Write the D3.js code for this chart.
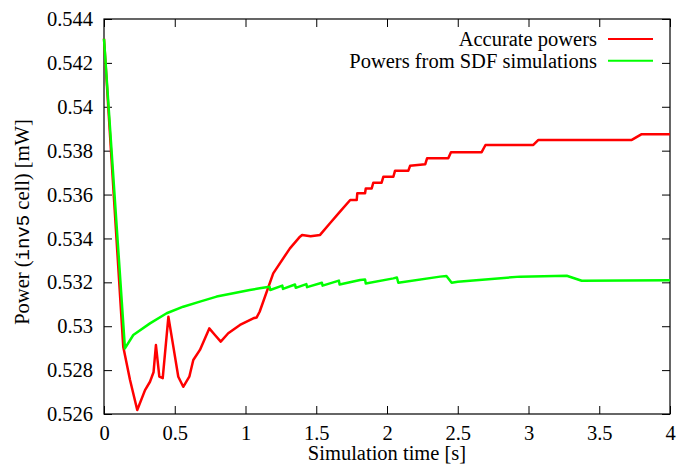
<!DOCTYPE html>
<html lang="en">
<head>
    <meta charset="UTF-8">
    <title>Power vs simulation time</title>
    <script src="https://d3js.org/d3.v7.min.js"></script>
</head>
<body style="margin:0;background:#fff">
    <div id="chart"></div>
    <script>
        // values (time in s, power in mW)
        const accurateTime = [0, 0.136, 0.184, 0.235, 0.29, 0.325, 0.35, 0.367, 0.391, 0.415, 0.455, 0.49,
            0.525, 0.56, 0.603, 0.631, 0.678, 0.744, 0.784, 0.825, 0.878, 0.961, 1.055, 1.079, 1.1, 1.196,
            1.314, 1.385, 1.4, 1.46, 1.527, 1.597, 1.668, 1.74, 1.786, 1.79, 1.845, 1.85, 1.892, 1.903,
            1.962, 1.974, 2.045, 2.057, 2.151, 2.163, 2.27, 2.283, 2.433, 2.452, 2.669, 2.696, 3.034, 3.07,
            3.73, 3.8, 4.0];
        const accuratePower = [0.5431, 0.52907, 0.52755, 0.52618, 0.52709, 0.52747, 0.5279, 0.52914, 0.5277,
            0.52763, 0.53043, 0.52907, 0.5277, 0.52724, 0.5277, 0.52846, 0.52892, 0.5299, 0.5296, 0.5293,
            0.52968, 0.53006, 0.53036, 0.5304, 0.53066, 0.53241, 0.53355, 0.53408, 0.53416, 0.5341, 0.53416,
            0.53469, 0.53522, 0.53575, 0.53575, 0.53606, 0.53606, 0.53628, 0.53628, 0.53654,
            0.53654, 0.53681, 0.53681, 0.53709, 0.53709, 0.53731, 0.53738, 0.53765, 0.53765, 0.53793,
            0.53793, 0.53826, 0.53826, 0.53849, 0.53849, 0.53875, 0.53875];

        const sdfTime = [0, 0.148, 0.207, 0.325, 0.443, 0.56, 0.678, 0.796, 0.914, 1.03, 1.1, 1.17, 1.175,
            1.26, 1.265, 1.35, 1.355, 1.43, 1.435, 1.54, 1.545, 1.66, 1.665, 1.81, 1.845, 1.85, 2.045, 2.07,
            2.08, 2.375, 2.42, 2.457, 2.5, 2.94, 3.27, 3.376, 4.0];
        const sdfPower = [0.5431, 0.52899, 0.5296, 0.53013, 0.53059, 0.53089, 0.53112, 0.53135, 0.5315, 0.53165,
            0.53173, 0.5318, 0.53165, 0.53185, 0.5317, 0.5319, 0.53175, 0.53192, 0.53178, 0.53198, 0.53185,
            0.53208, 0.5319, 0.53211, 0.53213, 0.53195, 0.53218, 0.53222, 0.53198, 0.53226, 0.53229, 0.53198,
            0.53203, 0.53226, 0.5323, 0.53207, 0.5321];

        const xTicks = [0, 0.5, 1, 1.5, 2, 2.5, 3, 3.5, 4];
        const yTicks = [0.526, 0.528, 0.53, 0.532, 0.534, 0.536, 0.538, 0.54, 0.542, 0.544];
        const seriesNames = ["Accurate powers", "Powers from SDF simulations"];
        const seriesColors = ["#ff0000", "#00ff00"];

        const serif = "Liberation Serif";
        const fontSize = 20.5;

        const margin = {top: 19, right: 8, bottom: 50, left: 104},
            W = 678, H = 464,
            width = W - margin.left - margin.right,
            height = H - margin.top - margin.bottom;

        const svg = d3.select("#chart").append("svg")
            .attr("width", W)
            .attr("height", H)
            .attr("font-family", serif)
            .attr("font-size", fontSize);
        const g = svg.append("g")
            .attr("transform", `translate(${margin.left},${margin.top})`);

        const x = d3.scaleLinear().domain([0, 4]).range([0, width]);
        const y = d3.scaleLinear().domain([0.526, 0.544]).range([height, 0]);

        const fmt = d => String(+d.toFixed(3));

        // gnuplot style: ticks pointing inward on all four sides
        const tick = 8;
        const xb = g.append("g").attr("transform", `translate(0,${height})`)
            .call(d3.axisBottom(x).tickValues(xTicks).tickSizeInner(-tick).tickSizeOuter(0).tickPadding(11).tickFormat(fmt));
        const xt = g.append("g")
            .call(d3.axisTop(x).tickValues(xTicks).tickSizeInner(-tick).tickSizeOuter(0).tickFormat(""));
        const yl = g.append("g")
            .call(d3.axisLeft(y).tickValues(yTicks).tickSizeInner(-tick).tickSizeOuter(0).tickPadding(11).tickFormat(fmt));
        const yr = g.append("g").attr("transform", `translate(${width},0)`)
            .call(d3.axisRight(y).tickValues(yTicks).tickSizeInner(-tick).tickSizeOuter(0).tickFormat(""));
        [xb, xt, yl, yr].forEach(a => {
            a.attr("font-family", serif).attr("font-size", fontSize);
            a.select(".domain").remove();
            a.selectAll("line").attr("stroke", "#000");
            a.selectAll("text").attr("fill", "#000");
        });
        xb.selectAll("text").attr("dy", "0.71em");

        g.append("rect")
            .attr("width", width).attr("height", height)
            .attr("fill", "none").attr("stroke", "#000").attr("stroke-width", 1.2);

        const line = d3.line().x(d => x(d[0])).y(d => y(d[1]));
        const series = [
            d3.zip(accurateTime, accuratePower),
            d3.zip(sdfTime, sdfPower)
        ];
        series.forEach((s, i) => {
            g.append("path")
                .datum(s)
                .attr("fill", "none")
                .attr("stroke", seriesColors[i])
                .attr("stroke-width", 2.5)
                .attr("stroke-linejoin", "round")
                .attr("d", line);
        });

        // legend, top right
        seriesNames.forEach((name, i) => {
            const ly = 20 + i * 21.7;
            g.append("text")
                .attr("x", 493).attr("y", ly)
                .attr("text-anchor", "end")
                .attr("dy", "0.35em")
                .text(name);
            g.append("line")
                .attr("x1", 504).attr("x2", 549)
                .attr("y1", ly).attr("y2", ly)
                .attr("stroke", seriesColors[i]).attr("stroke-width", 2);
        });

        // axis titles
        svg.append("text")
            .attr("x", margin.left + width / 2)
            .attr("y", 460)
            .attr("text-anchor", "middle")
            .text("Simulation time [s]");

        const yt = svg.append("text")
            .attr("transform", `translate(29,222) rotate(-90)`)
            .attr("text-anchor", "middle");
        yt.append("tspan").text("Power (");
        yt.append("tspan").attr("font-family", "Liberation Mono").attr("font-size", 19).text("inv5");
        yt.append("tspan").text(" cell) [mW]");
    </script>
</body>
</html>
